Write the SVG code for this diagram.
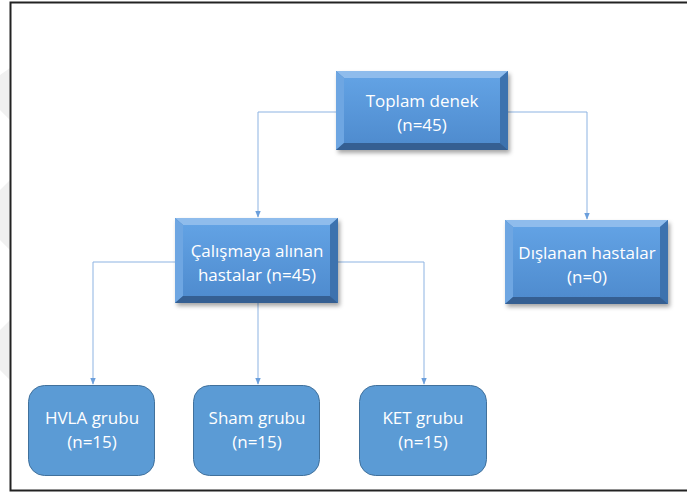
<svg xmlns="http://www.w3.org/2000/svg" width="687" height="494" viewBox="0 0 687 494">
<defs>
<style>
.t{font-family:"Open Sans","Liberation Sans",sans-serif;font-size:17px;fill:#fff;text-anchor:middle}
.c{fill:none;stroke:#8db3e2;stroke-width:1}
.rb{fill:#5b9bd5;stroke:#41719c;stroke-width:1}
</style>
<marker id="a" viewBox="0 0 10 10" refX="9" refY="5" markerWidth="7" markerHeight="7" orient="auto"><path d="M0,1 L10,5 L0,9 z" fill="#6b9fdc"/></marker>
<linearGradient id="g" x1="0" y1="0" x2="0" y2="1"><stop offset="0" stop-color="#62a2e4"/><stop offset="1" stop-color="#4f8ccf"/></linearGradient>
<filter id="s" x="-10%" y="-10%" width="125%" height="130%"><feDropShadow dx="2" dy="3" stdDeviation="2" flood-color="#000" flood-opacity="0.35"/></filter>
</defs>
<rect width="687" height="494" fill="#fff"/>
<path d="M0,75 L10,68 L10,120 L0,110z M0,190 L10,180 L10,250 L0,240z M0,330 L10,320 L10,380 L0,370z" fill="#f0f0f0"/>
<rect x="10.5" y="2.5" width="680" height="488" fill="none" stroke="#222" stroke-width="2"/>
<g id="connectors">
<path class="c" d="M336,112 H258 V217" marker-end="url(#a)"/>
<path class="c" d="M508,112 H587 V219" marker-end="url(#a)"/>
<path class="c" d="M175,262 H93 V384" marker-end="url(#a)"/>
<path class="c" d="M258,303 V384" marker-end="url(#a)"/>
<path class="c" d="M338,262 H424 V384" marker-end="url(#a)"/>
</g>
<g id="n1">
<g filter="url(#s)"><rect x="336" y="71" width="172" height="79" fill="#4a86c8"/></g>
<polygon points="336,71 508,71 500,78 344,78" fill="#8fbcec"/>
<polygon points="336,71 344,78 344,143 336,150" fill="#6ea6e2"/>
<polygon points="508,71 508,150 500,143 500,78" fill="#3d72ae"/>
<polygon points="336,150 508,150 500,143 344,143" fill="#355f92"/>
<rect x="344" y="78" width="156" height="65" fill="url(#g)"/>
<text class="t" x="422" y="107">Toplam denek</text>
<text class="t" x="422" y="131">(n=45)</text>
</g>
<g id="n2">
<g filter="url(#s)"><rect x="175" y="218" width="163" height="85" fill="#4a86c8"/></g>
<polygon points="175,218 338,218 330,225 183,225" fill="#8fbcec"/>
<polygon points="175,218 183,225 183,296 175,303" fill="#6ea6e2"/>
<polygon points="338,218 338,303 330,296 330,225" fill="#3d72ae"/>
<polygon points="175,303 338,303 330,296 183,296" fill="#355f92"/>
<rect x="183" y="225" width="147" height="71" fill="url(#g)"/>
<text class="t" x="257" y="257">Çalışmaya alınan</text>
<text class="t" x="257" y="281">hastalar (n=45)</text>
</g>
<g id="n3">
<g filter="url(#s)"><rect x="505" y="220" width="163" height="84" fill="#4a86c8"/></g>
<polygon points="505,220 668,220 660,227 513,227" fill="#8fbcec"/>
<polygon points="505,220 513,227 513,297 505,304" fill="#6ea6e2"/>
<polygon points="668,220 668,304 660,297 660,227" fill="#3d72ae"/>
<polygon points="505,304 668,304 660,297 513,297" fill="#355f92"/>
<rect x="513" y="227" width="147" height="70" fill="url(#g)"/>
<text class="t" x="587" y="259">Dışlanan hastalar</text>
<text class="t" x="587" y="283">(n=0)</text>
</g>
<g id="n4">
<rect class="rb" x="28.5" y="385.5" width="126" height="90" rx="16"/>
<text class="t" x="92" y="424">HVLA grubu</text>
<text class="t" x="92" y="448">(n=15)</text>
</g>
<g id="n5">
<rect class="rb" x="193.5" y="385.5" width="126" height="90" rx="16"/>
<text class="t" x="257" y="424">Sham grubu</text>
<text class="t" x="257" y="448">(n=15)</text>
</g>
<g id="n6">
<rect class="rb" x="359.5" y="385.5" width="127" height="90" rx="16"/>
<text class="t" x="423" y="424">KET grubu</text>
<text class="t" x="423" y="448">(n=15)</text>
</g>
</svg>
